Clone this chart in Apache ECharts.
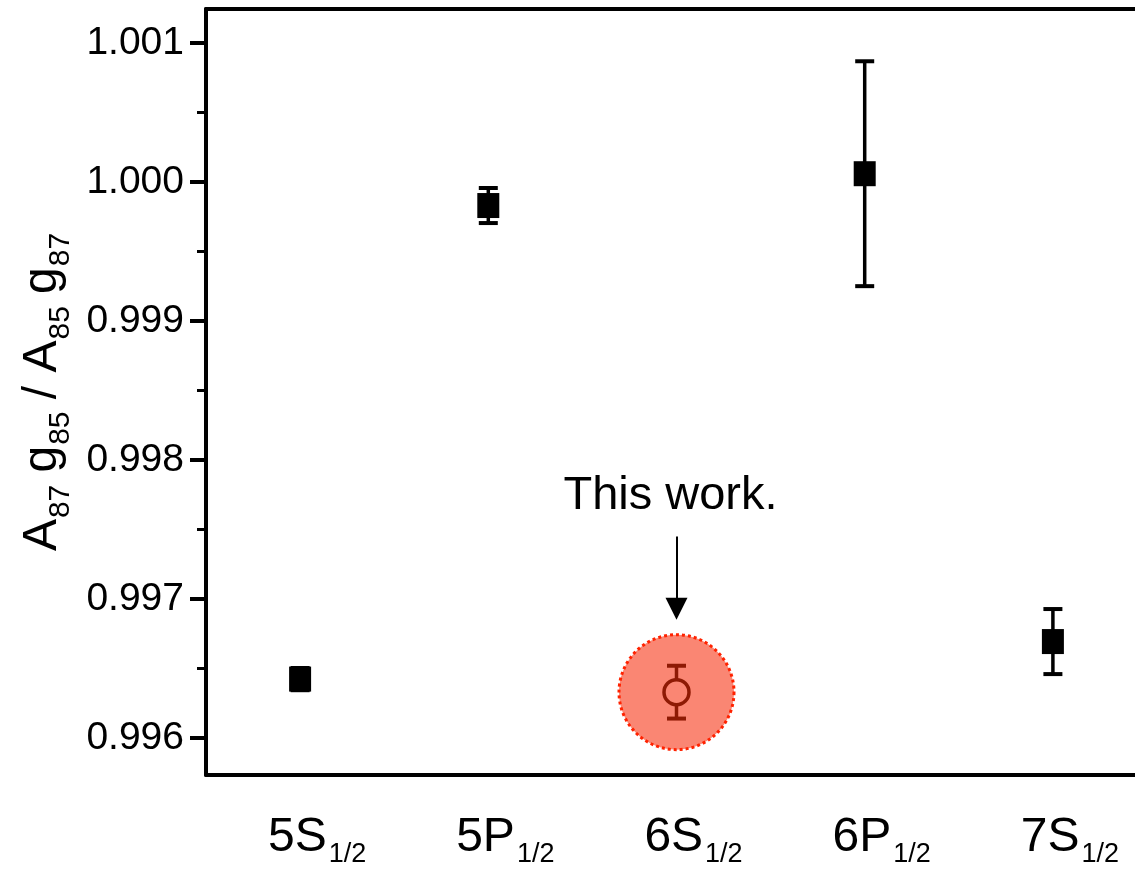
<!DOCTYPE html>
<html>
<head>
<meta charset="utf-8">
<script src="https://cdn.jsdelivr.net/npm/echarts@6/dist/echarts.min.js"></script>
<style>
html,body{margin:0;padding:0;background:#fff;}
#chart{width:1135px;height:872px;}
</style>
</head>
<body>
<div id="chart"></div>
<script>
// ---- data ----
const categories = ['5S', '5P', '6S', '6P', '7S'];
const subscript = '1/2';
const values = [0.996424, 0.999831, 0.99633, 1.00006, 0.996694];
const errors = [0.00008, 0.000126, 0.00019, 0.000809, 0.000234];
const thisWorkIndex = 2;
const majorTicks = [0.996, 0.997, 0.998, 0.999, 1.000, 1.001];
const minorTicks = [0.9965, 0.9975, 0.9985, 0.9995, 1.0005];
const yMin = 0.995734, yMax = 1.001245;
const annotationText = 'This work.';
const arrowFrom = 0.99745, arrowTo = 0.99693, textAt = 0.99774;

const FONT = 'Liberation Sans, Arial, sans-serif';
const salmon = '#FA8673';
const darkRed = '#8E1A04';

const blackData = [], redData = [], errData = [];
values.forEach((v, i) => {
  errData.push([i, v, errors[i]]);
  if (i === thisWorkIndex) redData.push([i, v]); else blackData.push([i, v]);
});

const chart = echarts.init(document.getElementById('chart'));
chart.setOption({
  animation: false,
  backgroundColor: '#fff',
  grid: { left: 206, width: 941, top: 9, bottom: 97, outerBoundsMode: 'none', containLabel: false },
  xAxis: [{
    type: 'category',
    data: categories,
    boundaryGap: true,
    axisLine: { lineStyle: { color: '#000', width: 4 } },
    axisTick: { alignWithLabel: true, length: 16, lineStyle: { color: '#000', width: 4 } },
    axisLabel: {
      margin: 39,
      padding: [0, 0, 0, 34],
      formatter: v => `{m|${v}}{s|${subscript}}`,
      rich: {
        m: { fontFamily: FONT, fontSize: 48, lineHeight: 48, verticalAlign: 'top', color: '#000' },
        s: { fontFamily: FONT, fontSize: 27, lineHeight: 27, verticalAlign: 'top', color: '#000', padding: [27, 0, 0, 2] }
      }
    },
    splitLine: { show: false }
  }, {
    type: 'category',
    data: categories,
    position: 'top',
    axisLine: { lineStyle: { color: '#000', width: 4 } },
    axisTick: { show: false },
    axisLabel: { show: false }
  }],
  yAxis: [{
    type: 'value',
    min: yMin, max: yMax,
    position: 'left',
    axisLine: { show: true, lineStyle: { color: '#000', width: 4 } },
    axisTick: { show: true, customValues: majorTicks, length: 16, lineStyle: { color: '#000', width: 4 } },
    axisLabel: {
      customValues: majorTicks, margin: 22, fontFamily: FONT, fontSize: 39, color: '#000',
      formatter: v => v.toFixed(3)
    },
    splitLine: { show: false },
    name: '{m|A}{s|87} {m|g}{s|85} {m|/ A}{s|85} {m|g}{s|87}',
    nameLocation: 'middle',
    nameRotate: 90,
    nameGap: 134,
    nameTextStyle: {
      fontFamily: FONT, fontSize: 44, color: '#000',
      rich: {
        m: { fontFamily: FONT, fontSize: 48, lineHeight: 48, verticalAlign: 'top', color: '#000' },
        s: { fontFamily: FONT, fontSize: 30, lineHeight: 30, verticalAlign: 'top', color: '#000', padding: [27, 0, 0, 1] }
      }
    }
  }, {
    type: 'value',
    min: yMin, max: yMax,
    position: 'left',
    axisLine: { show: false },
    axisTick: { show: true, customValues: minorTicks, length: 9, lineStyle: { color: '#000', width: 3 } },
    axisLabel: { show: false },
    splitLine: { show: false }
  }],
  series: [{
    type: 'scatter',
    z: 1,
    silent: true,
    symbol: 'circle',
    symbolSize: 115,
    itemStyle: { color: salmon, borderColor: '#FF2200', borderWidth: 3, borderType: [3, 3], opacity: 1 },
    data: redData
  }, {
    type: 'custom',
    z: 2,
    silent: true,
    data: errData,
    renderItem: (params, api) => {
      const i = api.value(0), v = api.value(1), e = api.value(2);
      const top = api.coord([i, v + e]);
      const bot = api.coord([i, v - e]);
      const col = i === thisWorkIndex ? darkRed : '#000';
      const hw = 9.5;
      return {
        type: 'group',
        children: [
          { type: 'line', shape: { x1: top[0], y1: top[1], x2: bot[0], y2: bot[1] }, style: { stroke: col, lineWidth: 3.5 } },
          { type: 'line', shape: { x1: top[0] - hw, y1: top[1], x2: top[0] + hw, y2: top[1] }, style: { stroke: col, lineWidth: 4 } },
          { type: 'line', shape: { x1: bot[0] - hw, y1: bot[1], x2: bot[0] + hw, y2: bot[1] }, style: { stroke: col, lineWidth: 4 } }
        ]
      };
    }
  }, {
    type: 'scatter',
    z: 3,
    symbol: 'rect',
    symbolSize: [22, 25],
    itemStyle: { color: '#000', opacity: 1 },
    data: blackData
  }, {
    type: 'scatter',
    z: 3,
    symbol: 'circle',
    symbolSize: 25,
    itemStyle: { color: salmon, borderColor: darkRed, borderWidth: 3.5, opacity: 1 },
    data: redData,
    markLine: {
      silent: true,
      symbol: ['none', 'triangle'],
      symbolSize: 22,
      itemStyle: { color: '#000' },
      lineStyle: { color: '#000', width: 2, type: 'solid', opacity: 1 },
      label: { show: false },
      emphasis: { disabled: true },
      data: [[{ coord: [thisWorkIndex, arrowFrom] }, { coord: [thisWorkIndex, arrowTo] }]]
    },
    markPoint: {
      silent: true,
      symbol: 'circle',
      symbolSize: 0,
      data: [{ coord: [thisWorkIndex, textAt] }],
      label: {
        show: true, position: 'inside', offset: [-6, 0],
        formatter: annotationText, fontFamily: FONT, fontSize: 47, color: '#000'
      }
    }
  }]
});
</script>
</body>
</html>
